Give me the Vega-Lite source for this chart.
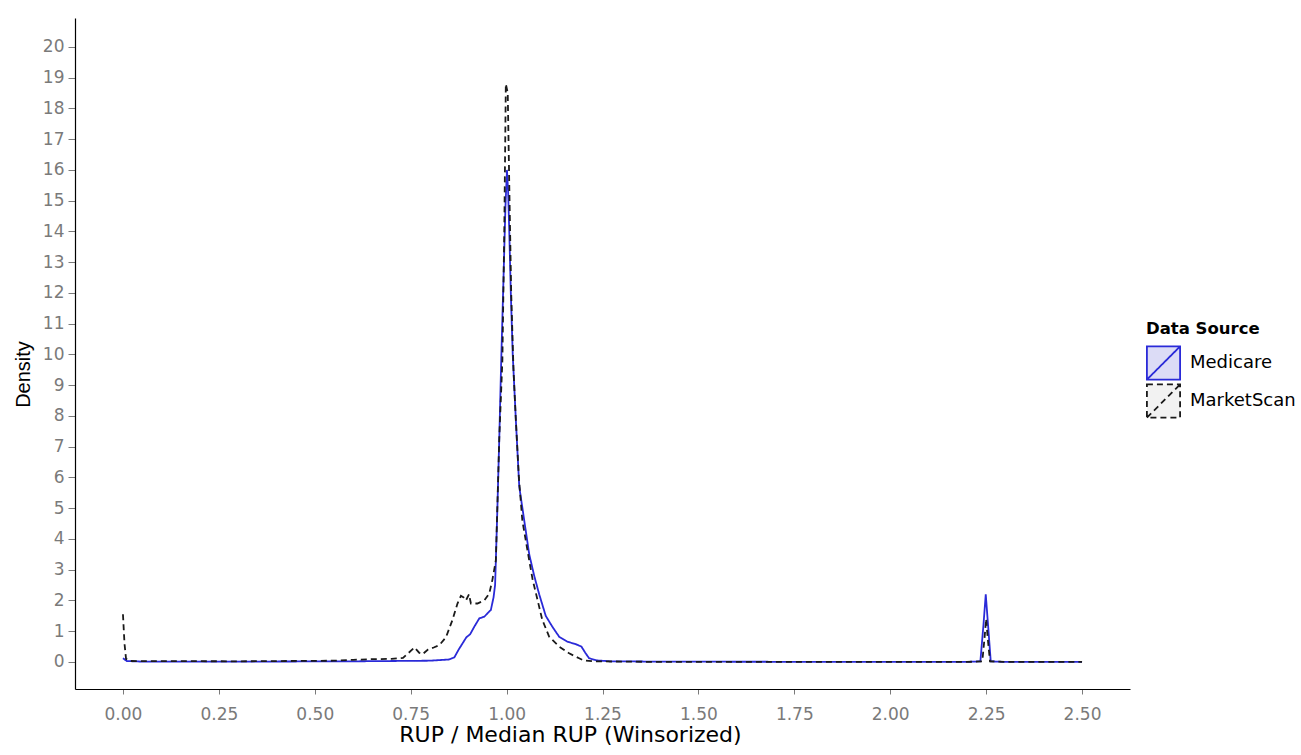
{
  "$schema": "https://vega.github.io/schema/vega-lite/v6.json",
  "width": 1055,
  "height": 671,
  "autosize": {"type": "none"},
  "padding": {"left": 75, "top": 18, "right": 171, "bottom": 66},
  "background": "white",
  "config": {"view": {"stroke": null}, "font": "DejaVu Sans"},
  "data": {"values": [
    {"src": "Medicare", "x": 0, "y": 0.12},
    {"src": "Medicare", "x": 0.01, "y": 0.03},
    {"src": "Medicare", "x": 0.05, "y": 0.01},
    {"src": "Medicare", "x": 0.3, "y": 0.01},
    {"src": "Medicare", "x": 0.6, "y": 0.02},
    {"src": "Medicare", "x": 0.7, "y": 0.03},
    {"src": "Medicare", "x": 0.8, "y": 0.04},
    {"src": "Medicare", "x": 0.85, "y": 0.08},
    {"src": "Medicare", "x": 0.864, "y": 0.15},
    {"src": "Medicare", "x": 0.875, "y": 0.4},
    {"src": "Medicare", "x": 0.885, "y": 0.6},
    {"src": "Medicare", "x": 0.895, "y": 0.8},
    {"src": "Medicare", "x": 0.905, "y": 0.9},
    {"src": "Medicare", "x": 0.916, "y": 1.15},
    {"src": "Medicare", "x": 0.929, "y": 1.42},
    {"src": "Medicare", "x": 0.942, "y": 1.47},
    {"src": "Medicare", "x": 0.95, "y": 1.58},
    {"src": "Medicare", "x": 0.959, "y": 1.69},
    {"src": "Medicare", "x": 0.966, "y": 2.1},
    {"src": "Medicare", "x": 0.97, "y": 2.5},
    {"src": "Medicare", "x": 0.972, "y": 3.3},
    {"src": "Medicare", "x": 0.976, "y": 5.0},
    {"src": "Medicare", "x": 0.981, "y": 7.3},
    {"src": "Medicare", "x": 0.986, "y": 9.8},
    {"src": "Medicare", "x": 0.992, "y": 12.5},
    {"src": "Medicare", "x": 0.997, "y": 14.8},
    {"src": "Medicare", "x": 1.001, "y": 16.0},
    {"src": "Medicare", "x": 1.004, "y": 15.3},
    {"src": "Medicare", "x": 1.007, "y": 14.0},
    {"src": "Medicare", "x": 1.011, "y": 12.0},
    {"src": "Medicare", "x": 1.016, "y": 10.0},
    {"src": "Medicare", "x": 1.024, "y": 7.9},
    {"src": "Medicare", "x": 1.033, "y": 5.7},
    {"src": "Medicare", "x": 1.046, "y": 4.6},
    {"src": "Medicare", "x": 1.059, "y": 3.5},
    {"src": "Medicare", "x": 1.072, "y": 2.8},
    {"src": "Medicare", "x": 1.085, "y": 2.2},
    {"src": "Medicare", "x": 1.102, "y": 1.5},
    {"src": "Medicare", "x": 1.119, "y": 1.15},
    {"src": "Medicare", "x": 1.137, "y": 0.82},
    {"src": "Medicare", "x": 1.158, "y": 0.66},
    {"src": "Medicare", "x": 1.18, "y": 0.58},
    {"src": "Medicare", "x": 1.195, "y": 0.5},
    {"src": "Medicare", "x": 1.205, "y": 0.3},
    {"src": "Medicare", "x": 1.215, "y": 0.12},
    {"src": "Medicare", "x": 1.235, "y": 0.05},
    {"src": "Medicare", "x": 1.27, "y": 0.02},
    {"src": "Medicare", "x": 1.4, "y": 0.01},
    {"src": "Medicare", "x": 2.0, "y": 0.0},
    {"src": "Medicare", "x": 2.2, "y": 0.0},
    {"src": "Medicare", "x": 2.235, "y": 0.02},
    {"src": "Medicare", "x": 2.243, "y": 1.2},
    {"src": "Medicare", "x": 2.249, "y": 2.2},
    {"src": "Medicare", "x": 2.255, "y": 1.2},
    {"src": "Medicare", "x": 2.262, "y": 0.02},
    {"src": "Medicare", "x": 2.3, "y": 0.0},
    {"src": "Medicare", "x": 2.5, "y": 0.0},
    {"src": "MarketScan", "x": 0, "y": 1.55},
    {"src": "MarketScan", "x": 0.004, "y": 0.6},
    {"src": "MarketScan", "x": 0.008, "y": 0.1},
    {"src": "MarketScan", "x": 0.02, "y": 0.03},
    {"src": "MarketScan", "x": 0.3, "y": 0.02},
    {"src": "MarketScan", "x": 0.55, "y": 0.04},
    {"src": "MarketScan", "x": 0.6, "y": 0.07},
    {"src": "MarketScan", "x": 0.65, "y": 0.09},
    {"src": "MarketScan", "x": 0.7, "y": 0.1},
    {"src": "MarketScan", "x": 0.73, "y": 0.13},
    {"src": "MarketScan", "x": 0.745, "y": 0.3},
    {"src": "MarketScan", "x": 0.76, "y": 0.47},
    {"src": "MarketScan", "x": 0.772, "y": 0.3},
    {"src": "MarketScan", "x": 0.781, "y": 0.25},
    {"src": "MarketScan", "x": 0.795, "y": 0.4},
    {"src": "MarketScan", "x": 0.81, "y": 0.47},
    {"src": "MarketScan", "x": 0.825, "y": 0.55},
    {"src": "MarketScan", "x": 0.842, "y": 0.8},
    {"src": "MarketScan", "x": 0.859, "y": 1.37},
    {"src": "MarketScan", "x": 0.872, "y": 1.9},
    {"src": "MarketScan", "x": 0.881, "y": 2.15},
    {"src": "MarketScan", "x": 0.888, "y": 2.1},
    {"src": "MarketScan", "x": 0.894, "y": 2.0},
    {"src": "MarketScan", "x": 0.902, "y": 2.2},
    {"src": "MarketScan", "x": 0.907, "y": 1.9},
    {"src": "MarketScan", "x": 0.924, "y": 1.9},
    {"src": "MarketScan", "x": 0.942, "y": 2.0},
    {"src": "MarketScan", "x": 0.955, "y": 2.23},
    {"src": "MarketScan", "x": 0.963, "y": 2.67},
    {"src": "MarketScan", "x": 0.972, "y": 3.3},
    {"src": "MarketScan", "x": 0.981, "y": 7.3},
    {"src": "MarketScan", "x": 0.989, "y": 9.8},
    {"src": "MarketScan", "x": 0.994, "y": 14.0},
    {"src": "MarketScan", "x": 0.998, "y": 18.8},
    {"src": "MarketScan", "x": 1.003, "y": 18.5},
    {"src": "MarketScan", "x": 1.007, "y": 15.5},
    {"src": "MarketScan", "x": 1.012, "y": 12.0},
    {"src": "MarketScan", "x": 1.018, "y": 9.5},
    {"src": "MarketScan", "x": 1.024, "y": 7.9},
    {"src": "MarketScan", "x": 1.032, "y": 6.0},
    {"src": "MarketScan", "x": 1.041, "y": 4.6},
    {"src": "MarketScan", "x": 1.059, "y": 3.3},
    {"src": "MarketScan", "x": 1.068, "y": 2.67},
    {"src": "MarketScan", "x": 1.081, "y": 2.0},
    {"src": "MarketScan", "x": 1.093, "y": 1.37},
    {"src": "MarketScan", "x": 1.111, "y": 0.82},
    {"src": "MarketScan", "x": 1.137, "y": 0.5},
    {"src": "MarketScan", "x": 1.163, "y": 0.28},
    {"src": "MarketScan", "x": 1.189, "y": 0.12},
    {"src": "MarketScan", "x": 1.2, "y": 0.05},
    {"src": "MarketScan", "x": 1.23, "y": 0.02},
    {"src": "MarketScan", "x": 1.4, "y": 0.0},
    {"src": "MarketScan", "x": 2.2, "y": 0.0},
    {"src": "MarketScan", "x": 2.24, "y": 0.02},
    {"src": "MarketScan", "x": 2.246, "y": 0.8},
    {"src": "MarketScan", "x": 2.25, "y": 1.4},
    {"src": "MarketScan", "x": 2.254, "y": 0.8},
    {"src": "MarketScan", "x": 2.26, "y": 0.02},
    {"src": "MarketScan", "x": 2.3, "y": 0.0},
    {"src": "MarketScan", "x": 2.5, "y": 0.0}
  ]},
  "mark": {"type": "line", "strokeWidth": 1.8},
  "encoding": {
    "x": {
      "field": "x", "type": "quantitative",
      "scale": {"domain": [-0.125, 2.625], "nice": false, "zero": false},
      "axis": {
        "values": [0, 0.25, 0.5, 0.75, 1, 1.25, 1.5, 1.75, 2, 2.25, 2.5],
        "format": ".2f",
        "title": "RUP / Median RUP (Winsorized)",
        "titleFontSize": 22, "titleFontWeight": "normal", "titleColor": "black",
        "titleX": 495,
        "labelFontSize": 17, "labelColor": "#7a7a7a",
        "tickColor": "#7a7a7a", "tickSize": 5,
        "domainColor": "black", "domainWidth": 1.2,
        "grid": false, "labelPadding": 12, "titlePadding": 2
      }
    },
    "y": {
      "field": "y", "type": "quantitative",
      "scale": {"domain": [-0.88, 20.94], "nice": false, "zero": false},
      "axis": {
        "values": [0, 1, 2, 3, 4, 5, 6, 7, 8, 9, 10, 11, 12, 13, 14, 15, 16, 17, 18, 19, 20],
        "title": "Density",
        "titleFont": "Liberation Sans",
        "titleFontSize": 20, "titleFontWeight": "normal", "titleColor": "black",
        "titleY": 356,
        "labelFontSize": 17, "labelColor": "#7a7a7a",
        "tickColor": "#7a7a7a", "tickSize": 7,
        "domainColor": "black", "domainWidth": 1.2,
        "grid": false, "labelPadding": 4, "titlePadding": 9
      }
    },
    "color": {
      "field": "src", "type": "nominal",
      "scale": {"domain": ["Medicare", "MarketScan"], "range": ["#2a2ad8", "#1a1a1a"]},
      "legend": {
        "title": "Data Source", "orient": "none", "legendX": 1071, "legendY": 303,
        "titleFontSize": 16.5, "titleFontWeight": "bold", "titleColor": "black", "titlePadding": 8,
        "labelFontSize": 18, "labelColor": "black", "labelOffset": 9,
        "symbolType": "M-1,-1H1V1H-1Z M-1,1L1,-1",
        "symbolSize": 1100, "symbolStrokeWidth": 1.8, "rowPadding": -9,
        "encode": {"symbols": {"update": {"fill": {"signal": "datum.value === 'Medicare' ? '#dcdcf6' : '#f2f2f2'"}, "fillOpacity": {"value": 1}}}}
      }
    },
    "strokeDash": {
      "field": "src", "type": "nominal",
      "scale": {"domain": ["Medicare", "MarketScan"], "range": [[1, 0], [6, 4]]},
      "legend": {
        "title": "Data Source", "orient": "none", "legendX": 1071, "legendY": 303,
        "titleFontSize": 16.5, "titleFontWeight": "bold", "titleColor": "black", "titlePadding": 8,
        "labelFontSize": 18, "labelColor": "black", "labelOffset": 9,
        "symbolType": "M-1,-1H1V1H-1Z M-1,1L1,-1",
        "symbolSize": 1100, "symbolStrokeWidth": 1.8, "rowPadding": -9,
        "encode": {"symbols": {"update": {"fill": {"signal": "datum.value === 'Medicare' ? '#dcdcf6' : '#f2f2f2'"}, "fillOpacity": {"value": 1}}}}
      }
    }
  }
}
